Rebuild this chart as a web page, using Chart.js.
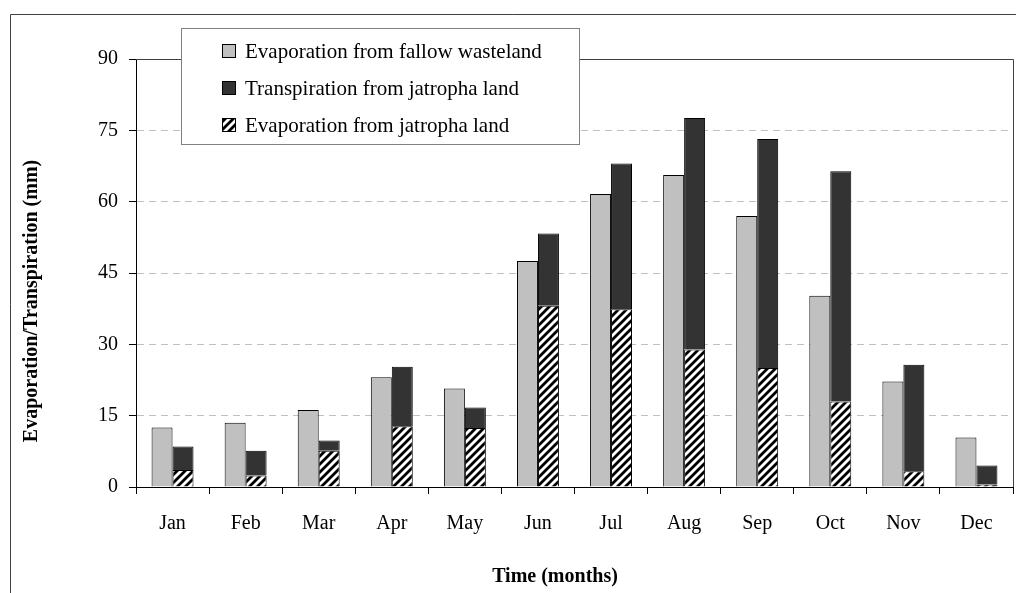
<!DOCTYPE html>
<html><head><meta charset="utf-8">
<script src="https://cdn.jsdelivr.net/npm/chart.js@4.4.1/dist/chart.umd.min.js"></script>
<style>html,body{margin:0;padding:0;background:#fff;overflow:hidden}canvas{display:block}</style>
</head><body>
<canvas id="c" width="1016" height="593"></canvas>
<script>
const months = ['Jan','Feb','Mar','Apr','May','Jun','Jul','Aug','Sep','Oct','Nov','Dec'];
const fallowEvap = [12.5, 13.5, 16.2, 23.1, 20.7, 47.5, 61.6, 65.6, 57.0, 40.2, 22.2, 10.4];
const jatrophaEvap = [3.6, 2.4, 7.6, 12.8, 12.4, 38.1, 37.4, 28.9, 25.0, 18.0, 3.3, 0.5];
const jatrophaTransp = [4.9, 5.2, 2.2, 12.5, 4.3, 15.2, 30.6, 48.7, 48.2, 48.4, 22.4, 4.0];
const yTicks = [0, 15, 30, 45, 60, 75, 90];
const seriesNames = ['Evaporation from fallow wasteland', 'Transpiration from jatropha land', 'Evaporation from jatropha land'];
const yTitle = 'Evaporation/Transpiration (mm)';
const xTitle = 'Time (months)';

const FONT = 'Liberation Serif, Times New Roman, serif';
const canvas = document.getElementById('c');
const mainCtx = canvas.getContext('2d');

function makeHatch() {
  const s = 8;
  const t = document.createElement('canvas');
  t.width = s; t.height = s;
  const g = t.getContext('2d');
  g.fillStyle = '#fff'; g.fillRect(0, 0, s, s);
  g.strokeStyle = '#000'; g.lineWidth = 2.8;
  g.beginPath();
  g.moveTo(-2, s + 2); g.lineTo(s + 2, -2);
  g.moveTo(-2, 2); g.lineTo(2, -2);
  g.moveTo(s - 2, s + 2); g.lineTo(s + 2, s - 2);
  g.stroke();
  return mainCtx.createPattern(t, 'repeat');
}
const hatch = makeHatch();

const legendOrder = [0, 2, 1];

const decor = {
  id: 'decor',
  afterDraw(chart) {
    const ctx = chart.ctx;
    const a = chart.chartArea;
    ctx.save();
    // plot area top/right border
    ctx.strokeStyle = '#404040';
    ctx.lineWidth = 1;
    ctx.beginPath();
    ctx.moveTo(a.left, Math.round(a.top) + 0.5);
    ctx.lineTo(Math.round(a.right) + 0.5, Math.round(a.top) + 0.5);
    ctx.lineTo(Math.round(a.right) + 0.5, Math.round(a.bottom));
    ctx.stroke();
    // outer frame
    ctx.strokeStyle = '#404040';
    ctx.beginPath();
    ctx.moveTo(10.5, 600);
    ctx.lineTo(10.5, 14.5);
    ctx.lineTo(1030, 14.5);
    ctx.stroke();
    // axis titles
    ctx.fillStyle = '#000';
    ctx.font = 'bold 20px ' + FONT;
    ctx.textAlign = 'center';
    ctx.textBaseline = 'middle';
    ctx.fillText(xTitle, 555, 577);
    ctx.save();
    ctx.translate(32, 301);
    ctx.rotate(-Math.PI / 2);
    ctx.fillText(yTitle, 0, 0);
    ctx.restore();
    // legend
    const bx = 181.5, by = 28.5, bw = 398, bh = 116;
    ctx.fillStyle = '#fff';
    ctx.fillRect(bx, by, bw, bh);
    ctx.strokeStyle = '#808080';
    ctx.strokeRect(bx, by, bw, bh);
    ctx.font = '21px ' + FONT;
    ctx.textAlign = 'left';
    const rows = [51, 88, 125];
    legendOrder.forEach((di, k) => {
      const ds = chart.data.datasets[di];
      const y = rows[k];
      ctx.fillStyle = ds.backgroundColor;
      ctx.fillRect(222.5, y - 6.5, 13, 13);
      ctx.strokeStyle = '#000';
      ctx.strokeRect(222.5, y - 6.5, 13, 13);
      ctx.fillStyle = '#000';
      ctx.fillText(ds.label, 245, y + 1);
    });
    ctx.restore();
  }
};

new Chart(mainCtx, {
  type: 'bar',
  data: {
    labels: months,
    datasets: [
      { label: seriesNames[0], data: fallowEvap, backgroundColor: '#c0c0c0', borderColor: '#000', borderWidth: 1, stack: 'a' },
      { label: seriesNames[2], data: jatrophaEvap, backgroundColor: hatch, borderColor: '#000', borderWidth: 1, stack: 'b' },
      { label: seriesNames[1], data: jatrophaTransp, backgroundColor: '#333333', borderColor: '#000', borderWidth: 1, stack: 'b' }
    ]
  },
  options: {
    responsive: false,
    animation: false,
    categoryPercentage: 0.574,
    barPercentage: 1,
    layout: { padding: { top: 59, right: 3, left: 0, bottom: 0 } },
    plugins: { legend: { display: false }, tooltip: { enabled: false } },
    scales: {
      x: {
        stacked: true,
        grid: { offset: true, drawOnChartArea: false, tickLength: 7, color: '#000', tickColor: '#000' },
        border: { color: '#000', width: 1 },
        ticks: { font: { family: FONT, size: 20 }, color: '#000', padding: 18, maxRotation: 0, autoSkip: false },
        afterFit: s => { s.height = 106; }
      },
      y: {
        stacked: true,
        min: 0, max: 90,
        afterBuildTicks: s => { s.ticks = yTicks.map(v => ({ value: v })); },
        ticks: { font: { family: FONT, size: 20 }, color: '#000', padding: 11 },
        grid: {
          color: c => (c.tick && (c.tick.value === 0 || c.tick.value === 90)) ? 'rgba(0,0,0,0)' : '#c0c0c0',
          tickColor: '#000', tickLength: 7, tickBorderDash: [1, 0]
        },
        border: { color: '#000', width: 1, dash: [7, 5] },
        afterFit: s => { s.width = 136; }
      }
    }
  },
  plugins: [decor]
});
</script>
</body></html>
